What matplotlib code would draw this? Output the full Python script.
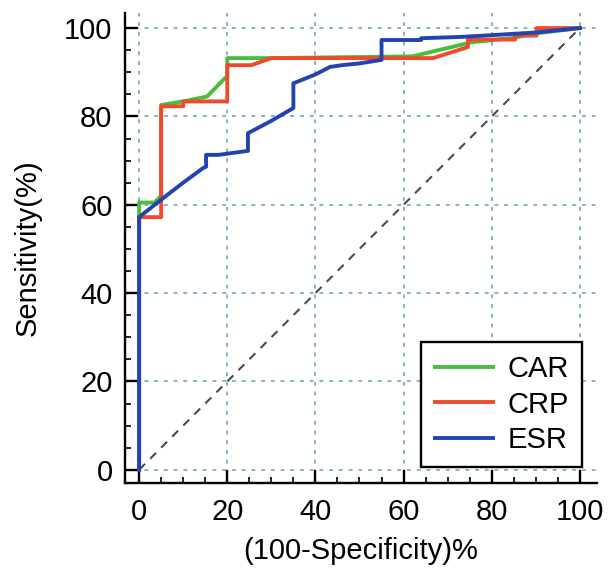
import numpy as np
import matplotlib
matplotlib.use("Agg")
import matplotlib.pyplot as plt
from matplotlib.ticker import MultipleLocator

# ROC curves (x = 100-specificity, y = sensitivity)
car_x = [0, 0, 0, 3.5, 5, 5, 10, 15.4, 19.5, 20, 20, 30, 62, 75.5, 85, 90, 100]
car_y = [0, 57, 60.5, 60.5, 62, 82.6, 83.4, 84.5, 88.7, 88.7, 93.2, 93.2, 93.6, 96.8, 97.8, 98.8, 100]

crp_x = [0, 0, 5, 5, 10, 10, 20, 20, 25.5, 30, 66.7, 74.6, 74.6, 85.3, 85.3, 90.2, 90.2, 100]
crp_y = [0, 57.2, 57.2, 82.3, 82.3, 83.4, 83.4, 91.6, 91.6, 93.2, 93.2, 95.7, 97.4, 97.4, 98.3, 98.3, 100, 100]

esr_x = [0, 0, 4.8, 10, 14.5, 15.2, 15.2, 18, 24.7, 24.7, 30, 35, 35, 40, 43.3, 46, 50, 55, 55, 64, 64, 73, 80, 90, 100]
esr_y = [0, 57.2, 61, 65, 68.3, 68.6, 71.3, 71.3, 72.2, 76.2, 79, 81.9, 87.5, 89.5, 91.2, 91.6, 92, 92.8, 97.3, 97.3, 97.7, 98, 98.4, 99, 100]

labels = ["CAR", "CRP", "ESR"]
colors = ["#47bf3a", "#ef4a2c", "#2243b2"]

plt.rcParams["font.family"] = ["Liberation Sans", "DejaVu Sans"]

fig = plt.figure(figsize=(6.08, 5.68), dpi=100)
ax = fig.add_axes([0.2056, 0.1496, 0.7764, 0.8274])

# reference diagonal
ax.plot([0, 100], [0, 100], color="#4a4a4a", lw=1.5, ls=(0, (4, 3.5)), zorder=2)

for xs, ys, lab, col in zip([car_x, crp_x, esr_x], [car_y, crp_y, esr_y], labels, colors):
    ax.plot(xs, ys, color=col, lw=2.8, label=lab, zorder=3)

ax.set_xlim(-3.2, 103.9)
ax.set_ylim(-3.0, 103.4)
ax.xaxis.set_minor_locator(MultipleLocator(5))
ax.yaxis.set_minor_locator(MultipleLocator(5))
ax.set_xticks(np.arange(0, 101, 20))
ax.set_yticks(np.arange(0, 101, 20))

ax.grid(True, which="major", color="#86b2c8", ls=(0, (2, 3)), lw=1.4, zorder=1)

for side in ["top", "right"]:
    ax.spines[side].set_visible(False)
for side in ["left", "bottom"]:
    ax.spines[side].set_linewidth(1.7)

ax.tick_params(which="major", direction="in", length=9.5, width=1.7, labelsize=21)
ax.tick_params(which="minor", direction="in", length=4.5, width=1.2)
ax.tick_params(axis="y", which="major", pad=9)
ax.tick_params(axis="x", which="major", pad=11)

ax.set_xlabel("(100-Specificity)%", fontsize=21, labelpad=8)
ax.set_ylabel("Sensitivity(%)", fontsize=21, labelpad=16)

leg = ax.legend(loc="lower right", bbox_to_anchor=(0.968, 0.034), fontsize=21,
                frameon=True, fancybox=False, edgecolor="black", framealpha=1,
                handlelength=2.0, handletextpad=0.5, labelspacing=0.25,
                borderpad=0.45, borderaxespad=0)
leg.get_frame().set_linewidth(1.7)

fig.savefig("out.png", dpi=100)
